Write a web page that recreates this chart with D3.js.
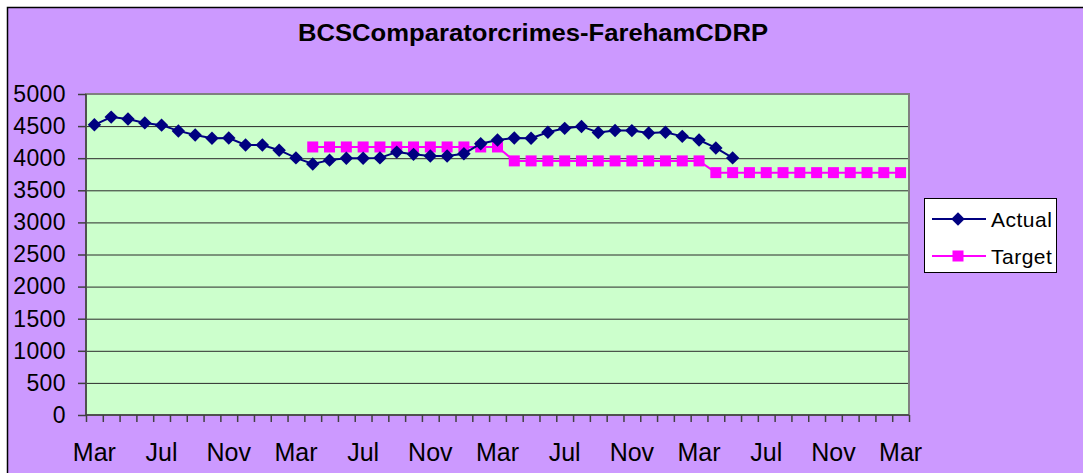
<!DOCTYPE html>
<html>
<head>
<meta charset="utf-8">
<style>
body { margin: 0; background: #fff; }
svg { font-family: Arial, "Liberation Sans", sans-serif; display: block; }
.axis path { display: none; }
.grid line { stroke: #2b2b2b; stroke-width: 1; }
.grid path { display: none; }
</style>
</head>
<body>
<script src="https://cdn.jsdelivr.net/npm/d3@7"></script>
<script>

var title = "BCSComparatorcrimes-FarehamCDRP";

// one category per month, Mar through Mar four years later
var months = ["Mar","Apr","May","Jun","Jul","Aug","Sep","Oct","Nov","Dec","Jan","Feb",
              "Mar","Apr","May","Jun","Jul","Aug","Sep","Oct","Nov","Dec","Jan","Feb",
              "Mar","Apr","May","Jun","Jul","Aug","Sep","Oct","Nov","Dec","Jan","Feb",
              "Mar","Apr","May","Jun","Jul","Aug","Sep","Oct","Nov","Dec","Jan","Feb",
              "Mar"];

// Actual starts at the first Mar
var actual = [4520, 4640, 4610, 4550, 4515, 4425, 4360, 4310, 4315, 4205, 4205, 4125,
              4005, 3910, 3970, 3998, 3998, 4005, 4095, 4060, 4035, 4035, 4070, 4225,
              4283, 4315, 4310, 4405, 4465, 4495, 4400, 4432, 4430, 4392, 4405, 4340,
              4283, 4160, 4005];

// Target starts at the second Apr (index 13)
var targetStart = 13;
var target = [4175, 4175, 4175, 4175, 4175, 4175, 4175, 4175, 4175, 4175, 4175, 4175,
              3958, 3958, 3958, 3958, 3958, 3958, 3958, 3958, 3958, 3958, 3958, 3958,
              3775, 3775, 3775, 3775, 3775, 3775, 3775, 3775, 3775, 3775, 3775, 3775];

var yTicks = d3.range(0, 5001, 500);

var W = 1083, H = 473;
var pLeft = 86, pRight = 909, pTop = 94, pBottom = 415;

var svg = d3.select("body").append("svg")
    .attr("width", W)
    .attr("height", H);

svg.append("rect")
    .attr("x", 7.5).attr("y", 7.5)
    .attr("width", 1200).attr("height", 600)
    .attr("fill", "#cc99ff")
    .attr("stroke", "#000")
    .attr("stroke-width", 1.5);

svg.append("text")
    .attr("x", 533)
    .attr("y", 41)
    .attr("text-anchor", "middle")
    .attr("font-weight", "bold")
    .attr("font-size", 23)
    .attr("textLength", 470)
    .attr("lengthAdjust", "spacingAndGlyphs")
    .text(title);

var x = d3.scaleBand()
    .domain(d3.range(months.length))
    .range([pLeft, pRight])
    .padding(0);

var xEdge = d3.scaleLinear()
    .domain([0, months.length])
    .range([pLeft, pRight]);

var y = d3.scaleLinear()
    .domain([0, 5000])
    .range([pBottom, pTop]);

svg.append("rect")
    .attr("x", pLeft).attr("y", pTop)
    .attr("width", pRight - pLeft).attr("height", pBottom - pTop)
    .attr("fill", "#ccffcc");

// gridlines
svg.append("g")
    .attr("class", "grid")
    .attr("transform", "translate(" + pLeft + ",0)")
    .call(d3.axisLeft(y).tickValues(yTicks.slice(1, -1)).tickSize(-(pRight - pLeft)).tickFormat(""));

// plot frame
svg.append("rect")
    .attr("x", pLeft).attr("y", pTop)
    .attr("width", pRight - pLeft).attr("height", pBottom - pTop)
    .attr("fill", "none")
    .attr("stroke", "#808080")
    .attr("stroke-width", 2);

svg.append("line")
    .attr("x1", pLeft).attr("x2", pLeft)
    .attr("y1", pTop).attr("y2", pBottom)
    .attr("stroke", "#404040").attr("stroke-width", 1.5);
svg.append("line")
    .attr("x1", pLeft).attr("x2", pRight)
    .attr("y1", pBottom).attr("y2", pBottom)
    .attr("stroke", "#404040").attr("stroke-width", 1.5);

// y axis
var yAxis = svg.append("g")
    .attr("class", "axis")
    .attr("transform", "translate(" + pLeft + ",0)")
    .call(d3.axisLeft(y).tickValues(yTicks).tickSize(8).tickPadding(12).tickFormat(d3.format("d")));
yAxis.selectAll("line").attr("stroke", "#404040").attr("stroke-width", 1.5);
yAxis.selectAll("text").attr("font-size", 23).attr("fill", "#000")
    .attr("font-family", "Arial, 'Liberation Sans', sans-serif")
    .style("letter-spacing", "0.4px");

// x tick marks at category edges
var xTicks = svg.append("g")
    .attr("class", "axis")
    .attr("transform", "translate(0," + pBottom + ")")
    .call(d3.axisBottom(xEdge).tickValues(d3.range(months.length + 1)).tickSize(7).tickFormat(""));
xTicks.selectAll("line").attr("stroke", "#404040").attr("stroke-width", 1.5);

// x labels every 4th month
var xLabels = svg.append("g")
    .attr("class", "axis")
    .attr("transform", "translate(0," + pBottom + ")")
    .call(d3.axisBottom(x)
        .tickValues(d3.range(0, months.length, 4))
        .tickSize(0).tickPadding(28)
        .tickFormat(function(i) { return months[i]; }));
xLabels.selectAll("text").attr("font-size", 25).attr("fill", "#000")
    .attr("font-family", "Arial, 'Liberation Sans', sans-serif");

var cx = function(i) { return x(i) + x.bandwidth() / 2; };

var actualPts = actual.map(function(v, i) { return [i, v]; });
var targetPts = target.map(function(v, i) { return [i + targetStart, v]; });

var line = d3.line()
    .x(function(d) { return cx(d[0]); })
    .y(function(d) { return y(d[1]); });

svg.append("path")
    .datum(targetPts)
    .attr("d", line)
    .attr("fill", "none")
    .attr("stroke", "#ff00ff")
    .attr("stroke-width", 2);

svg.selectAll(".tmark")
    .data(targetPts)
    .enter().append("rect")
    .attr("class", "tmark")
    .attr("x", function(d) { return cx(d[0]) - 5.5; })
    .attr("y", function(d) { return y(d[1]) - 5.5; })
    .attr("width", 11)
    .attr("height", 11)
    .attr("fill", "#ff00ff");

svg.append("path")
    .datum(actualPts)
    .attr("d", line)
    .attr("fill", "none")
    .attr("stroke", "#000080")
    .attr("stroke-width", 2);

var diamond = d3.symbol().type(d3.symbolDiamond2).size(115);

svg.selectAll(".amark")
    .data(actualPts)
    .enter().append("path")
    .attr("class", "amark")
    .attr("transform", function(d) { return "translate(" + cx(d[0]) + "," + y(d[1]) + ")"; })
    .attr("d", diamond)
    .attr("fill", "#000080");

// legend
var legend = svg.append("g");
legend.append("rect")
    .attr("x", 924.5).attr("y", 198.5)
    .attr("width", 132).attr("height", 74)
    .attr("fill", "#fff")
    .attr("stroke", "#000")
    .attr("stroke-width", 1);

var items = [
  {name: "Actual", color: "#000080", shape: "diamond", y: 219},
  {name: "Target", color: "#ff00ff", shape: "square", y: 256}
];

items.forEach(function(it) {
  legend.append("line")
      .attr("x1", 932).attr("x2", 986)
      .attr("y1", it.y).attr("y2", it.y)
      .attr("stroke", it.color).attr("stroke-width", 2);
  if (it.shape === "diamond") {
    legend.append("path")
        .attr("transform", "translate(958," + it.y + ")")
        .attr("d", diamond)
        .attr("fill", it.color);
  } else {
    legend.append("rect")
        .attr("x", 958 - 5.5).attr("y", it.y - 5.5)
        .attr("width", 11).attr("height", 11)
        .attr("fill", it.color);
  }
  legend.append("text")
      .attr("x", 991)
      .attr("y", it.y + 7.5)
      .attr("font-size", 21)
      .style("letter-spacing", "0.5px")
      .text(it.name);
});

</script>
</body>
</html>
